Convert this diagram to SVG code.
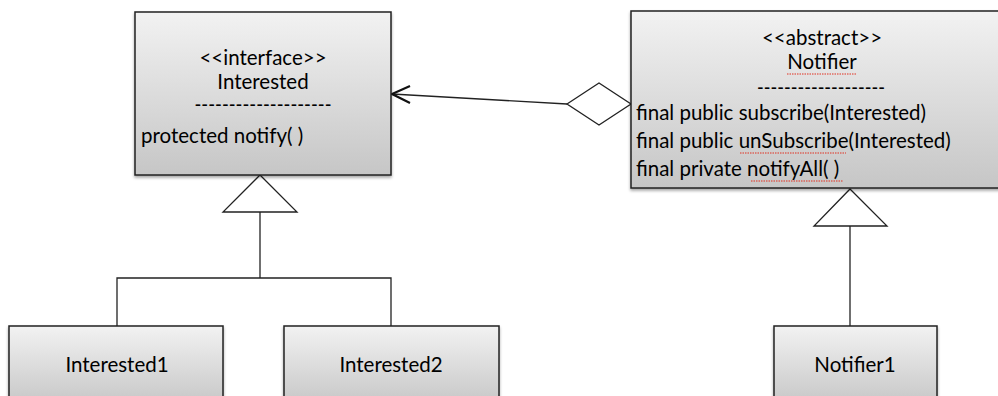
<svg xmlns="http://www.w3.org/2000/svg" width="998" height="396" viewBox="0 0 998 396">
<defs>
<linearGradient id="g" x1="0" y1="0" x2="0" y2="1">
<stop offset="0" stop-color="#f2f2f2"/>
<stop offset="1" stop-color="#c6c6c6"/>
</linearGradient>
<filter id="sh" x="-5%" y="-5%" width="110%" height="115%">
<feDropShadow dx="0" dy="2" stdDeviation="1.5" flood-color="#000" flood-opacity="0.35"/>
</filter>
</defs>
<style>
.box{fill:url(#g);stroke:#222;stroke-width:1.5;filter:url(#sh)}
text{font-family:Lato,"Liberation Sans",sans-serif;font-size:20.5px;fill:#000}
.c{text-anchor:middle}
.ln{fill:none;stroke:#222;stroke-width:1.3}
.hd{fill:#fff;stroke:#222;stroke-width:1.3}
.sq{fill:none;stroke:#e03020;stroke-width:1;stroke-dasharray:1.5 1}
</style>
<rect width="998" height="396" fill="#fff"/>
<g id="connectors">
<line class="ln" x1="567" y1="104" x2="392" y2="94"/>
<polyline fill="none" stroke="#111" stroke-width="2.2" points="410,86 392,94 410,103"/>
<polygon class="hd" points="567,104 599,83 631,104 599,125"/>
<polygon class="hd" points="260,175 297,212 223,212"/>
<polyline class="ln" points="260,212 260,278"/>
<polyline class="ln" points="117,326 117,278 391,278 391,326"/>
<polygon class="hd" points="850,189 887,226 814,226"/>
<polyline class="ln" points="850,226 850,326"/>
</g>
<g id="interested">
<rect class="box" x="135" y="12" width="256" height="163"/>
<text class="c" x="263" y="65">&lt;&lt;interface&gt;&gt;</text>
<text class="c" x="263" y="89">Interested</text>
<text class="c" x="263" y="112" textLength="137" lengthAdjust="spacingAndGlyphs">--------------------</text>
<text x="141" y="143">protected notify( )</text>
</g>
<g id="notifier">
<rect class="box" x="631" y="11" width="380" height="177"/>
<text class="c" x="822" y="45">&lt;&lt;abstract&gt;&gt;</text>
<text class="c" x="822" y="69">Notifier</text>
<text class="c" x="821" y="95" textLength="128" lengthAdjust="spacingAndGlyphs">-------------------</text>
<text x="636" y="120">final public subscribe(Interested)</text>
<text x="636" y="148">final public unSubscribe(Interested)</text>
<text x="636" y="176">final private notifyAll( )</text>
<path class="sq" d="M787 74 h69"/>
<path class="sq" d="M740 153 h106"/>
<path class="sq" d="M751 181 h92"/>
</g>
<g id="interested1">
<rect class="box" x="9" y="326" width="214" height="80"/>
<text class="c" x="117" y="372">Interested1</text>
</g>
<g id="interested2">
<rect class="box" x="284" y="326" width="215" height="80"/>
<text class="c" x="391" y="372">Interested2</text>
</g>
<g id="notifier1">
<rect class="box" x="774" y="326" width="163" height="80"/>
<text class="c" x="855" y="372">Notifier1</text>
</g>
</svg>
